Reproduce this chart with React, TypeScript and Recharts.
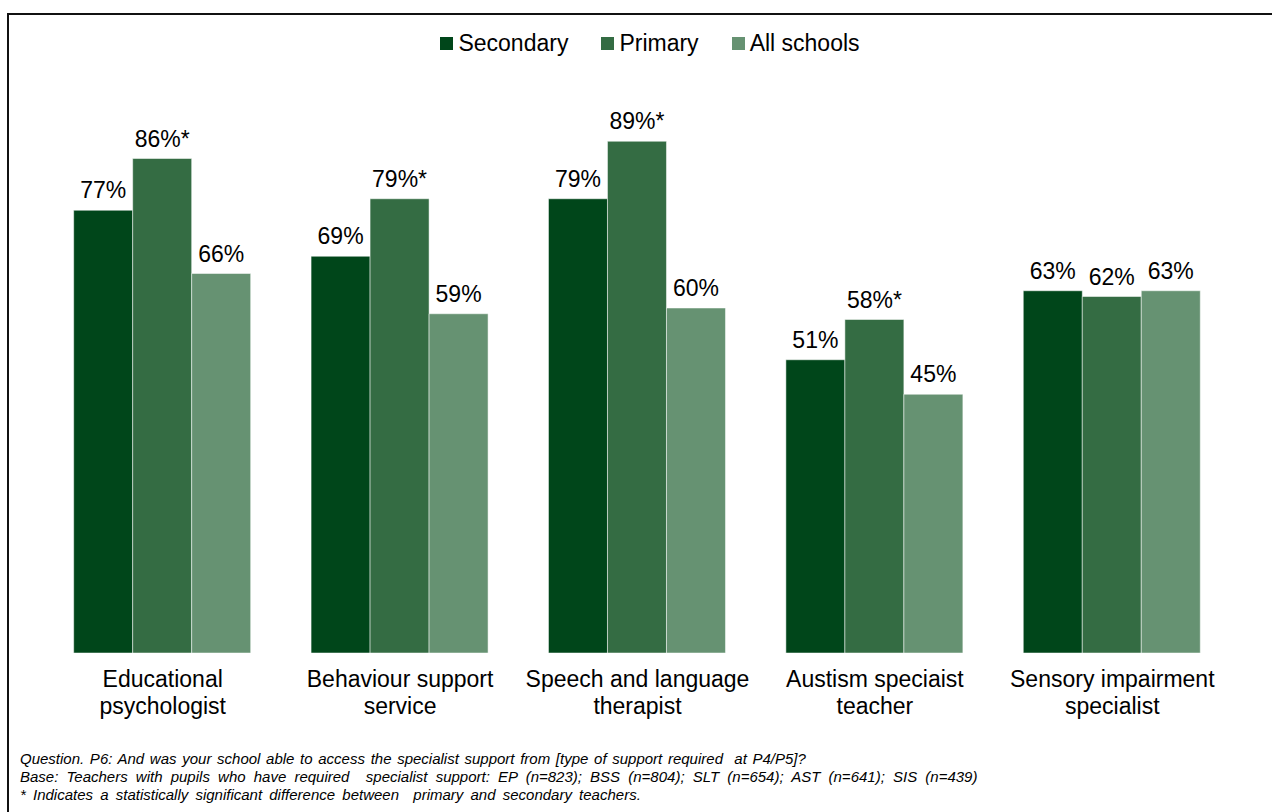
import React from "react";
import { BarChart, Bar, XAxis, YAxis, LabelList } from "recharts";

const categories = [
  "Educational|psychologist",
  "Behaviour support|service",
  "Speech and language|therapist",
  "Austism speciaist|teacher",
  "Sensory impairment|specialist",
];
const secondary = [77, 69, 79, 51, 63];
const primary = [86, 79, 89, 58, 62];
const allSchools = [66, 59, 60, 45, 63];
// significance marker on the primary figure
const primarySig = [true, true, true, true, false];

const SERIES = [
  { key: "secondary", label: "Secondary", color: "#00461a" },
  { key: "primary", label: "Primary", color: "#346c43" },
  { key: "all", label: "All schools", color: "#669272" },
];

const NOTES = [
  "Question. P6: And was your school able to access the specialist support from [type of support required  at P4/P5]?",
  "Base: Teachers with pupils who have required  specialist support: EP (n=823); BSS (n=804); SLT (n=654); AST (n=641); SIS (n=439)",
  "* Indicates a statistically significant difference between  primary and secondary teachers.",
];
const NOTE_WORD_SPACING = [1.5, 4, 3];

const FONT = "Arial, 'Liberation Sans', sans-serif";

const data = categories.map((c, i) => ({
  name: c,
  secondary: secondary[i],
  primary: primary[i],
  all: allSchools[i],
  sig: primarySig[i],
}));

function CategoryTick({ x, y, payload }: any) {
  const lines = String(payload.value).split("|");
  return (
    <text x={x} y={y} textAnchor="middle" fontSize={23} fontFamily={FONT} fill="#000">
      {lines.map((l, i) => (
        <tspan key={i} x={x} dy={i === 0 ? 26 : 27}>
          {l}
        </tspan>
      ))}
    </text>
  );
}

function makeLabel(withSig: boolean) {
  return (props: any) => {
    const { x, y, width, value, index } = props;
    const star = withSig && data[index].sig ? "*" : "";
    return (
      <text
        x={x + width / 2}
        y={y - 12}
        textAnchor="middle"
        fontSize={23}
        fontFamily={FONT}
        fill="#000"
      >
        {`${value}%${star}`}
      </text>
    );
  };
}

export default function App() {
  return (
    <div
      style={{
        position: "absolute",
        left: 0,
        top: 0,
        width: 1272,
        height: 812,
        background: "#fff",
        overflow: "hidden",
        fontFamily: FONT,
      }}
    >
      {/* frame, only top and left edges are visible in the crop */}
      <div
        style={{
          position: "absolute",
          left: 7,
          top: 13,
          width: 1300,
          height: 900,
          borderLeft: "2px solid #111",
          borderTop: "2px solid #111",
        }}
      />

      {/* legend */}
      <div
        style={{
          position: "absolute",
          top: 29,
          left: 0,
          width: 1300,
          display: "flex",
          justifyContent: "center",
          gap: 33,
          fontSize: 23,
          lineHeight: "28px",
          color: "#000",
        }}
      >
        {SERIES.map((s) => (
          <div key={s.key} style={{ display: "flex", alignItems: "center" }}>
            <span
              style={{
                display: "inline-block",
                width: 13,
                height: 13,
                background: s.color,
                marginRight: 5,
              }}
            />
            <span>{s.label}</span>
          </div>
        ))}
      </div>

      <div style={{ position: "absolute", left: 0, top: 0 }}>
        <BarChart
          width={1272}
          height={812}
          data={data}
          margin={{ top: 78, right: 41, bottom: 129, left: 44 }}
          barCategoryGap="12.5%"
          barGap={0}
        >
          <XAxis
            dataKey="name"
            axisLine={false}
            tickLine={false}
            interval={0}
            height={30}
            tick={<CategoryTick />}
          />
          <YAxis hide domain={[0, 100]} />
          <Bar dataKey="secondary" fill={SERIES[0].color} stroke="#fff" strokeWidth={0.5} isAnimationActive={false}>
            <LabelList dataKey="secondary" content={makeLabel(false)} />
          </Bar>
          <Bar dataKey="primary" fill={SERIES[1].color} stroke="#fff" strokeWidth={0.5} isAnimationActive={false}>
            <LabelList dataKey="primary" content={makeLabel(true)} />
          </Bar>
          <Bar dataKey="all" fill={SERIES[2].color} stroke="#fff" strokeWidth={0.5} isAnimationActive={false}>
            <LabelList dataKey="all" content={makeLabel(false)} />
          </Bar>
        </BarChart>
      </div>

      {/* notes */}
      <div
        style={{
          position: "absolute",
          left: 20,
          top: 750,
          fontSize: 15,
          fontStyle: "italic",
          lineHeight: "18px",
          color: "#000",
          whiteSpace: "pre",
        }}
      >
        {NOTES.map((n, i) => (
          <div key={i} style={{ wordSpacing: NOTE_WORD_SPACING[i] }}>
            {n}
          </div>
        ))}
      </div>
    </div>
  );
}
